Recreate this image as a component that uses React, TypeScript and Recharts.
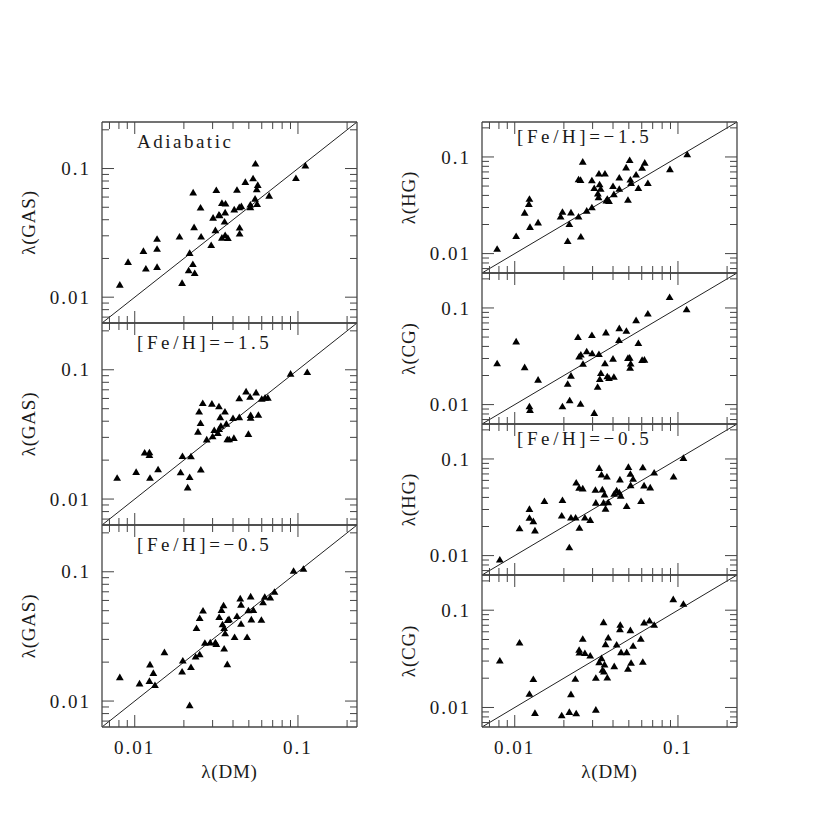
import React from 'react'
import { ScatterChart, Scatter, XAxis, YAxis, ReferenceLine } from 'recharts'

// Spin parameter lambda, gas vs dark matter, log-log, seven stacked panels.

const LO = 0.0063
const HI = 0.23
const lambdaTicks = [0.007, 0.008, 0.009, 0.01, 0.02, 0.03, 0.04, 0.05, 0.06, 0.07, 0.08, 0.09, 0.1, 0.2]
const majorTicks = [0.01, 0.1]
const majorLabels = ['0.01', '0.1']
const diagonal = [LO, HI]

// [lambda(DM), lambda(component)]
const gasAdiabatic = [
  [0.0081, 0.0125], [0.0091, 0.0188], [0.0113, 0.0229], [0.0117, 0.0167], [0.0137, 0.0284], [0.0137, 0.0238],
  [0.0137, 0.0172], [0.0188, 0.0296], [0.0195, 0.0129], [0.0217, 0.0221], [0.0214, 0.0162], [0.0227, 0.0181],
  [0.0233, 0.0154], [0.0228, 0.0652], [0.0231, 0.035], [0.0253, 0.0498], [0.0255, 0.0296], [0.0294, 0.0254],
  [0.0302, 0.0415], [0.0312, 0.0332], [0.0316, 0.068], [0.0328, 0.0438], [0.0331, 0.0433], [0.0342, 0.054],
  [0.036, 0.0534], [0.0358, 0.0456], [0.0355, 0.0387], [0.0342, 0.029], [0.0358, 0.0304], [0.0372, 0.0289],
  [0.0407, 0.0481], [0.0423, 0.0683], [0.0437, 0.0501], [0.045, 0.051], [0.0439, 0.0348], [0.0439, 0.0312],
  [0.0476, 0.0787], [0.0511, 0.0525], [0.0511, 0.0501], [0.0531, 0.0839], [0.0549, 0.1092], [0.0546, 0.0583],
  [0.0559, 0.0691], [0.0567, 0.0746], [0.0562, 0.0531], [0.0666, 0.0615], [0.0972, 0.0844], [0.111, 0.1054],
]

const gasFeHm15 = [
  [0.0078, 0.0146], [0.0102, 0.0162], [0.0115, 0.0229], [0.0123, 0.023], [0.0123, 0.0219], [0.0124, 0.0146],
  [0.0139, 0.017], [0.0191, 0.0161], [0.0196, 0.0215], [0.0217, 0.0148], [0.0211, 0.0123], [0.0221, 0.0214],
  [0.0254, 0.0169], [0.0244, 0.0332], [0.0253, 0.0387], [0.0248, 0.0475], [0.0261, 0.0553], [0.0276, 0.0289],
  [0.0297, 0.0547], [0.03, 0.0306], [0.0307, 0.0342], [0.0323, 0.0325], [0.0328, 0.0522], [0.0334, 0.043],
  [0.0329, 0.0348], [0.0337, 0.0369], [0.0357, 0.0475], [0.0364, 0.0383], [0.0369, 0.029], [0.0379, 0.029],
  [0.0405, 0.0297], [0.04, 0.0423], [0.0437, 0.043], [0.0437, 0.0601], [0.0481, 0.068], [0.0509, 0.0618],
  [0.0513, 0.0446], [0.0513, 0.0425], [0.0497, 0.0319], [0.0554, 0.0668], [0.0572, 0.0448], [0.06, 0.0597],
  [0.0629, 0.0608], [0.0654, 0.0608], [0.0901, 0.0932], [0.114, 0.096],
]

const gasFeHm05 = [
  [0.0081, 0.0153], [0.0107, 0.0137], [0.0123, 0.0143], [0.0124, 0.0192], [0.013, 0.0165], [0.0133, 0.0133],
  [0.0152, 0.0239], [0.0195, 0.0169], [0.0197, 0.0206], [0.0221, 0.0183], [0.0217, 0.0093], [0.0236, 0.0221],
  [0.025, 0.023], [0.0239, 0.0367], [0.025, 0.0438], [0.0262, 0.0501], [0.0269, 0.0282], [0.029, 0.0284],
  [0.0312, 0.0285], [0.0316, 0.0276], [0.0329, 0.0446], [0.034, 0.0507], [0.035, 0.055], [0.0345, 0.0392],
  [0.0353, 0.0367], [0.0358, 0.0334], [0.0353, 0.0255], [0.0369, 0.0193], [0.0371, 0.0423], [0.0378, 0.043],
  [0.0409, 0.0313], [0.0423, 0.0454], [0.0443, 0.0622], [0.0448, 0.0557], [0.0448, 0.0396], [0.0488, 0.0313],
  [0.0497, 0.0504], [0.0513, 0.0645], [0.0518, 0.0428], [0.0533, 0.0507], [0.0597, 0.0425], [0.0611, 0.058],
  [0.0626, 0.0641], [0.0676, 0.0633], [0.0718, 0.07], [0.094, 0.1018], [0.108, 0.1054],
]

const hgFeHm15 = [
  [0.0078, 0.0112], [0.0102, 0.0152], [0.0115, 0.0265], [0.0122, 0.0327], [0.0123, 0.0369], [0.0124, 0.0189],
  [0.0139, 0.021], [0.0191, 0.0242], [0.0196, 0.0271], [0.0216, 0.0202], [0.0211, 0.0135], [0.0221, 0.0267],
  [0.0246, 0.0242], [0.0254, 0.015], [0.0246, 0.0588], [0.0253, 0.0578], [0.0261, 0.0893], [0.0276, 0.0278],
  [0.0297, 0.0301], [0.0297, 0.0574], [0.0307, 0.0477], [0.0323, 0.0419], [0.0326, 0.0384], [0.0328, 0.0674],
  [0.0331, 0.0521], [0.0336, 0.0469], [0.0357, 0.0674], [0.0364, 0.0354], [0.0369, 0.0369], [0.0378, 0.0351],
  [0.04, 0.05], [0.0405, 0.0412], [0.0437, 0.0612], [0.0437, 0.0469], [0.0481, 0.0779], [0.0494, 0.036],
  [0.0506, 0.093], [0.0511, 0.0583], [0.0516, 0.0538], [0.0554, 0.0658], [0.0572, 0.0477], [0.0603, 0.0773],
  [0.0626, 0.0872], [0.0654, 0.0538], [0.0893, 0.0748], [0.114, 0.1067],
]

const cgFeHm15 = [
  [0.0078, 0.0268], [0.0102, 0.0451], [0.0115, 0.0244], [0.0139, 0.0181], [0.0123, 0.0096], [0.0124, 0.0088],
  [0.0196, 0.0096], [0.0211, 0.0164], [0.0217, 0.0111], [0.0221, 0.0199], [0.0244, 0.05], [0.0248, 0.0314],
  [0.0254, 0.0329], [0.0262, 0.0264], [0.0253, 0.0102], [0.0276, 0.0356], [0.0297, 0.0524], [0.0298, 0.0339],
  [0.0307, 0.0082], [0.0322, 0.0153], [0.0328, 0.0334], [0.0332, 0.0184], [0.0337, 0.0212], [0.0357, 0.0268],
  [0.0362, 0.0558], [0.0369, 0.0196], [0.0378, 0.0189], [0.0405, 0.0194], [0.04, 0.0299], [0.0435, 0.0465],
  [0.0437, 0.0618], [0.0483, 0.058], [0.0494, 0.0304], [0.0506, 0.0306], [0.0513, 0.0266], [0.0509, 0.024],
  [0.0554, 0.0747], [0.0572, 0.0434], [0.0603, 0.029], [0.0623, 0.0292], [0.0654, 0.0875], [0.0889, 0.1297],
  [0.113, 0.0969],
]

const hgFeHm05 = [
  [0.0081, 0.0091], [0.0107, 0.0192], [0.0123, 0.0304], [0.0123, 0.0246], [0.013, 0.0227], [0.0133, 0.0182],
  [0.0152, 0.0367], [0.0196, 0.0376], [0.0194, 0.026], [0.0216, 0.0122], [0.0221, 0.0248], [0.0236, 0.0248],
  [0.0238, 0.0571], [0.0248, 0.0504], [0.0249, 0.0194], [0.0261, 0.0496], [0.0269, 0.0248], [0.029, 0.0234],
  [0.0312, 0.048], [0.0314, 0.0353], [0.0329, 0.0808], [0.034, 0.069], [0.0344, 0.0484], [0.0355, 0.043],
  [0.035, 0.0353], [0.0367, 0.0658], [0.036, 0.0306], [0.0374, 0.0356], [0.0407, 0.0437], [0.0421, 0.0473],
  [0.0437, 0.0451], [0.0446, 0.0417], [0.0441, 0.0614], [0.0485, 0.0326], [0.0497, 0.0828], [0.0511, 0.0701],
  [0.0531, 0.0623], [0.0513, 0.0536], [0.0594, 0.0367], [0.0609, 0.0821], [0.062, 0.0532], [0.0676, 0.0508],
  [0.0715, 0.0724], [0.094, 0.0658], [0.108, 0.1024],
]

const cgFeHm05 = [
  [0.0081, 0.0304], [0.0107, 0.0465], [0.0123, 0.0138], [0.013, 0.0196], [0.0133, 0.0088], [0.0194, 0.0083],
  [0.0216, 0.009], [0.0221, 0.0137], [0.0238, 0.0087], [0.0235, 0.0197], [0.0248, 0.0391], [0.0249, 0.0367],
  [0.0261, 0.0508], [0.0269, 0.0362], [0.029, 0.0342], [0.0314, 0.0202], [0.0314, 0.0095], [0.0329, 0.0292],
  [0.034, 0.0321], [0.0345, 0.0244], [0.0352, 0.0234], [0.0355, 0.0277], [0.035, 0.0753], [0.036, 0.0447],
  [0.0369, 0.0203], [0.0374, 0.0524], [0.0407, 0.0266], [0.0421, 0.0444], [0.0441, 0.0638], [0.0443, 0.0707],
  [0.0448, 0.037], [0.0485, 0.037], [0.0494, 0.025], [0.0511, 0.0623], [0.0516, 0.0288], [0.0531, 0.043],
  [0.0592, 0.0508], [0.0609, 0.0295], [0.062, 0.0747], [0.0669, 0.0783], [0.0715, 0.0707], [0.0936, 0.1297],
  [0.108, 0.1162],
]

const FONT = "'Liberation Serif', 'Times New Roman', serif"
const INK = '#1a1a1a'
const FRAME = '#444'

// geometry of the plot boxes (page pixels)
const COL_X = [102, 482]
const PLOT_W = 255
const Y_AXIS_W = 70

const panels = [
  { data: gasAdiabatic, col: 0, top: 122, h: 201, yTitle: 'λ(GAS)', note: 'Adiabatic', bottom: false },
  { data: gasFeHm15, col: 0, top: 323, h: 202, yTitle: 'λ(GAS)', note: '[Fe/H]=−1.5', bottom: false },
  { data: gasFeHm05, col: 0, top: 525, h: 202, yTitle: 'λ(GAS)', note: '[Fe/H]=−0.5', bottom: true },
  { data: hgFeHm15, col: 1, top: 122, h: 151, yTitle: 'λ(HG)', note: '[Fe/H]=−1.5', bottom: false },
  { data: cgFeHm15, col: 1, top: 273, h: 151, yTitle: 'λ(CG)', note: '', bottom: false },
  { data: hgFeHm05, col: 1, top: 424, h: 151, yTitle: 'λ(HG)', note: '[Fe/H]=−0.5', bottom: false },
  { data: cgFeHm05, col: 1, top: 575, h: 152, yTitle: 'λ(CG)', note: '', bottom: true },
]

// ticks drawn inward, SuperMongo style
function makeTick(side: 'b' | 't' | 'l' | 'r', showLabel: boolean) {
  return (p: any) => {
    const v = p.payload.value
    const mi = majorTicks.indexOf(v)
    const len = mi >= 0 ? 12 : 7
    const { x, y } = p
    let x2 = x
    let y2 = y
    if (side === 'b') y2 = y - len
    if (side === 't') y2 = y + len
    if (side === 'l') x2 = x + len
    if (side === 'r') x2 = x - len
    return (
      <g>
        <line x1={x} y1={y} x2={x2} y2={y2} stroke={FRAME} strokeWidth={1} />
        {showLabel && mi >= 0 && side === 'b' && (
          <text x={x} y={y + 27} textAnchor="middle" fontFamily={FONT} fontSize={19} letterSpacing={2} fill={INK}>
            {majorLabels[mi]}
          </text>
        )}
        {showLabel && mi >= 0 && side === 'l' && (
          <text x={x - 11} y={y} dy="0.35em" textAnchor="end" fontFamily={FONT} fontSize={19} letterSpacing={2} fill={INK}>
            {majorLabels[mi]}
          </text>
        )}
      </g>
    )
  }
}

function Triangle(props: any) {
  const { cx, cy } = props
  if (cx == null || cy == null) return null
  return <polygon points={`${cx},${cy - 3.6} ${cx - 3.9},${cy + 3} ${cx + 3.9},${cy + 3}`} fill="#000" />
}

function Panel({ cfg }: { cfg: (typeof panels)[number] }) {
  const hb = cfg.bottom ? 40 : 2
  const width = Y_AXIS_W + PLOT_W + 2
  const height = 2 + cfg.h + hb
  const pts = cfg.data.map(([x, y]) => ({ x, y }))
  const axisLine = { stroke: FRAME, strokeWidth: 1.3 }
  return (
    <div style={{ position: 'absolute', left: COL_X[cfg.col] - Y_AXIS_W, top: cfg.top - 2 }}>
      <ScatterChart width={width} height={height} margin={{ top: 0, right: 0, bottom: 0, left: 0 }}>
        <XAxis xAxisId="b" orientation="bottom" type="number" dataKey="x" scale="log" domain={[LO, HI]}
          allowDataOverflow ticks={lambdaTicks} interval={0} height={hb} tickSize={0} tickMargin={0}
          tickLine={false} axisLine={axisLine} tick={makeTick('b', cfg.bottom)} />
        <XAxis xAxisId="t" orientation="top" type="number" dataKey="x" scale="log" domain={[LO, HI]}
          allowDataOverflow ticks={lambdaTicks} interval={0} height={2} tickSize={0} tickMargin={0}
          tickLine={false} axisLine={axisLine} tick={makeTick('t', false)} />
        <YAxis yAxisId="l" orientation="left" type="number" dataKey="y" scale="log" domain={[LO, HI]}
          allowDataOverflow ticks={lambdaTicks} interval={0} width={Y_AXIS_W} tickSize={0} tickMargin={0}
          tickLine={false} axisLine={axisLine} tick={makeTick('l', true)} />
        <YAxis yAxisId="r" orientation="right" type="number" dataKey="y" scale="log" domain={[LO, HI]}
          allowDataOverflow ticks={lambdaTicks} interval={0} width={2} tickSize={0} tickMargin={0}
          tickLine={false} axisLine={axisLine} tick={makeTick('r', false)} />
        <ReferenceLine xAxisId="b" yAxisId="l" ifOverflow="visible" stroke="#222" strokeWidth={1}
          segment={[{ x: diagonal[0], y: diagonal[0] }, { x: diagonal[1], y: diagonal[1] }]} />
        <Scatter xAxisId="b" yAxisId="l" data={pts} shape={Triangle} isAnimationActive={false} />
      </ScatterChart>
    </div>
  )
}

export default function App() {
  return (
    <div style={{ position: 'absolute', left: 0, top: 0, width: 830, height: 830, background: '#fff' }}>
      {panels.map((cfg, i) => (
        <Panel key={i} cfg={cfg} />
      ))}
      <svg width={830} height={830} style={{ position: 'absolute', left: 0, top: 0, pointerEvents: 'none' }}>
        {panels.map((cfg, i) => {
          const cy = cfg.top + cfg.h / 2
          const tx = cfg.col === 0 ? 28 : 408
          return (
            <g key={i}>
              <text transform={`translate(${tx},${cy}) rotate(-90)`} textAnchor="middle" dy="0.35em"
                fontFamily={FONT} fontSize={19} letterSpacing={0.8} fill={INK}>
                {cfg.yTitle}
              </text>
              {cfg.note && (
                <text x={COL_X[cfg.col] + 35} y={cfg.top + (cfg.col === 0 ? 26 : 21)}
                  fontFamily={FONT} fontSize={19} letterSpacing={cfg.note === 'Adiabatic' ? 2.5 : 3.6} fill={INK}>
                  {cfg.note}
                </text>
              )}
            </g>
          )
        })}
        {COL_X.map((x0, i) => (
          <text key={i} x={x0 + PLOT_W / 2} y={778} textAnchor="middle" fontFamily={FONT} fontSize={19}
            letterSpacing={0.8} fill={INK}>
            λ(DM)
          </text>
        ))}
      </svg>
    </div>
  )
}
